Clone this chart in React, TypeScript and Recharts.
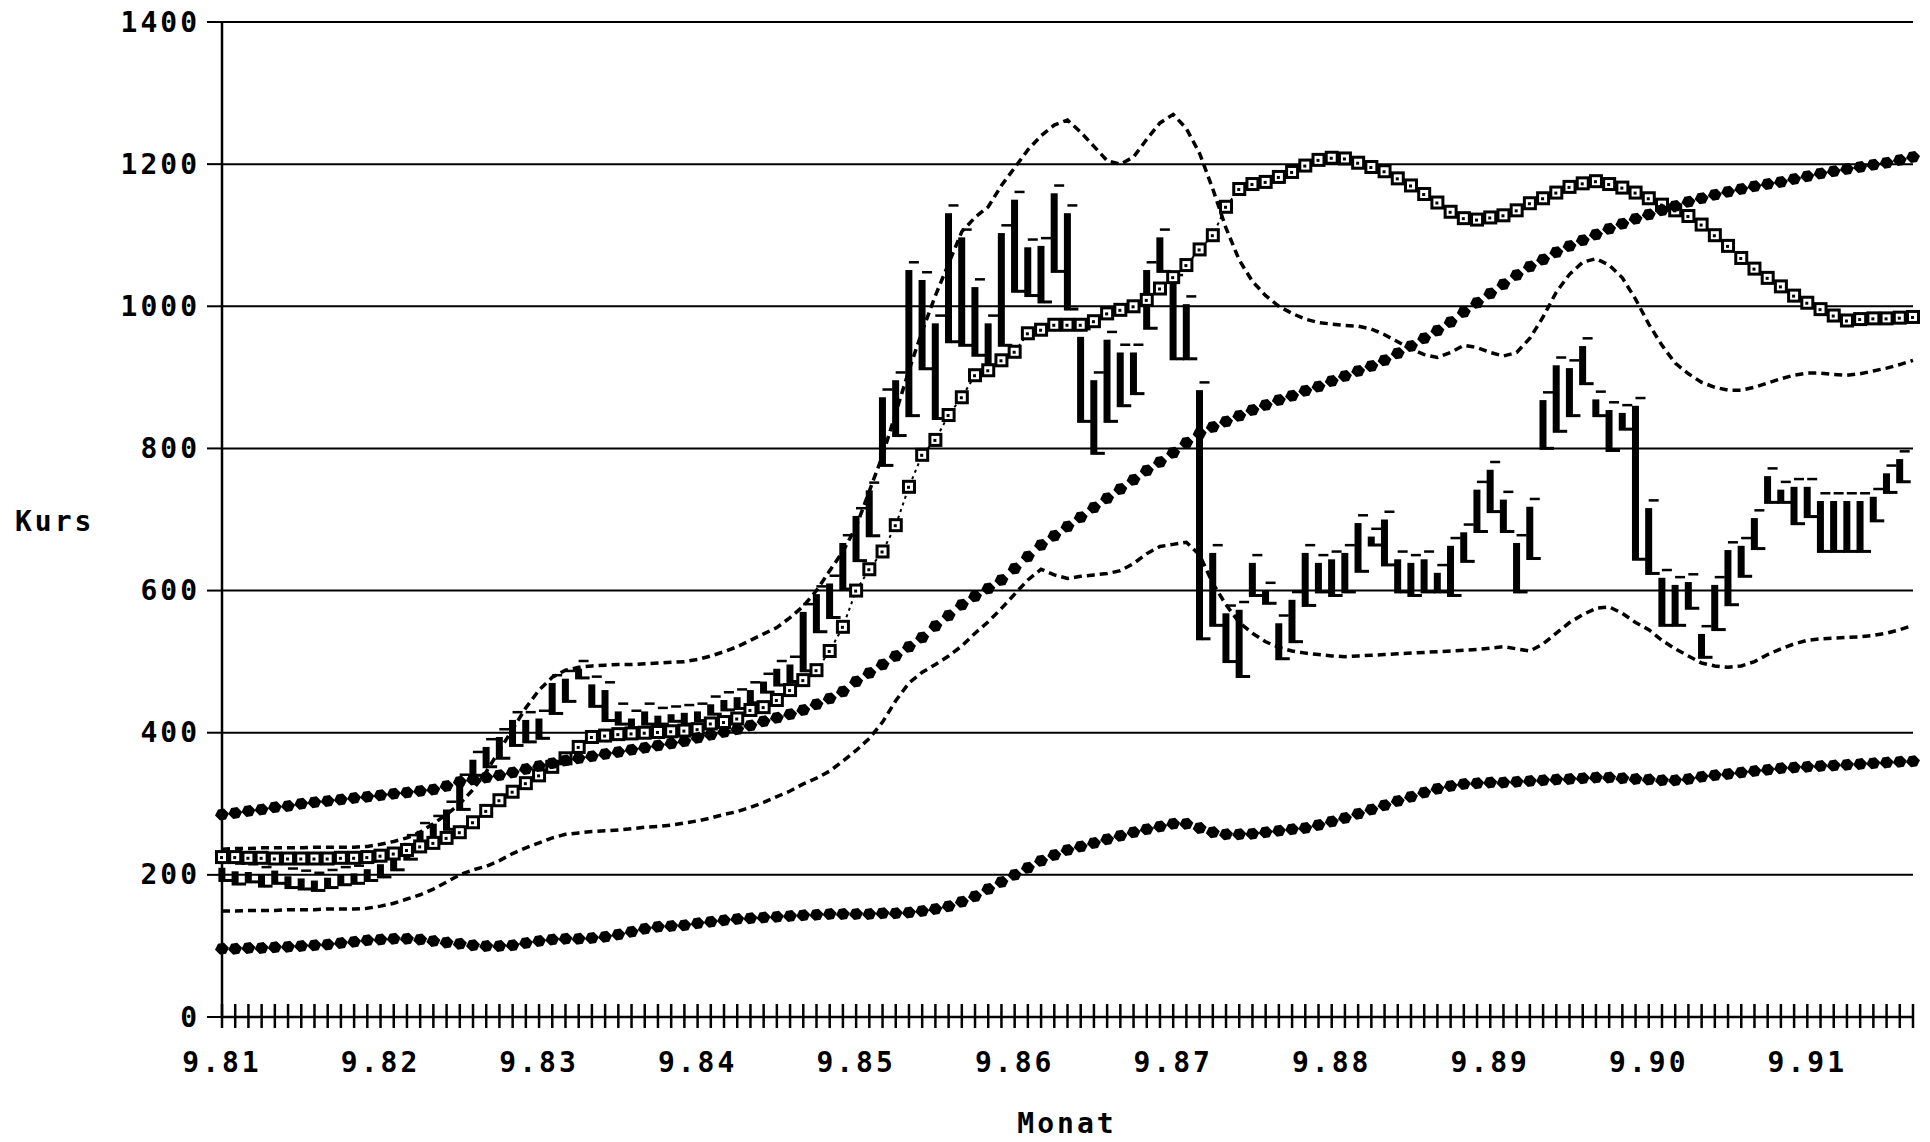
import React from "react";
import { ComposedChart, Bar, Line, XAxis, YAxis, CartesianGrid } from "recharts";

// Monatskurse Sep 1981 .. Mai 1992 (Index 0 = 9.81)
const MONTHS = Array.from({ length: 129 }, (_, i) => i);
const YEAR_LABELS = ["9.81", "9.82", "9.83", "9.84", "9.85", "9.86", "9.87", "9.88", "9.89", "9.90", "9.91"];
const Y_TICKS = [0, 200, 400, 600, 800, 1000, 1200, 1400];

// Hoch/Tief je Monat
const BAR_LOW = [
  190, 185, 188, 182, 186, 180, 178, 176, 180, 184, 186, 190,
  195, 205, 220, 238, 250, 262, 290, 338, 350, 362, 380, 385,
  390, 425, 442, 475, 435, 415, 410, 405, 410, 410, 414, 410,
  415, 424, 430, 432, 440, 455, 465, 470, 485, 540, 560, 600,
  640, 675, 774, 816, 844, 910, 840, 948, 943, 929, 915, 943,
  1019, 1013, 1004, 1047, 994, 836, 791, 836, 858, 875, 967, 1047,
  924, 924, 530, 549, 498, 477, 591, 580, 502, 526, 577, 596,
  591, 596, 625, 662, 634, 596, 591, 596, 596, 591, 639, 681,
  709, 681, 596, 643, 798, 822, 844, 889, 844, 795, 825, 642,
  622, 549, 549, 573, 504, 543, 578, 618, 657, 722, 722, 692,
  702, 653, 653, 653, 653, 696, 736, 751,
];
const BAR_HIGH = [
  210, 205, 204, 200, 206, 198, 195, 192, 196, 200, 202, 208,
  215, 225, 245, 262, 272, 292, 330, 362, 380, 394, 418, 418,
  420, 470, 476, 490, 468, 460, 430, 420, 430, 424, 426, 428,
  430, 440, 446, 450, 460, 472, 490, 496, 570, 595, 610, 667,
  705, 741, 872, 896, 1051, 1037, 976, 1131, 1097, 1027, 976, 1103,
  1150, 1083, 1085, 1159, 1131, 957, 896, 953, 935, 935, 1051, 1097,
  1033, 1003, 882, 653, 568, 573, 639, 600, 554, 587, 653, 639,
  644, 653, 695, 676, 700, 644, 639, 644, 625, 663, 682, 742,
  770, 728, 667, 718, 868, 917, 913, 944, 869, 854, 850, 860,
  716, 618, 608, 612, 539, 608, 657, 663, 702, 761, 742, 746,
  746, 726, 726, 726, 726, 732, 765, 785,
];

// gleitender Durchschnitt (Quadrate)
const MA_SQUARE = [
  225, 225, 224, 224, 223, 223, 223, 223, 223, 224, 224, 225,
  227, 230, 235, 240, 245, 252, 260, 274, 290, 305, 317, 329,
  340, 352, 364, 380, 394, 396, 398, 399, 400, 401, 402, 403,
  405, 413, 415, 420, 432, 436, 446, 460, 474, 488, 515, 549,
  600, 630, 655, 692, 746, 791, 812, 847, 872, 903, 910, 924,
  936, 962, 967, 974, 974, 974, 979, 990, 995, 1000, 1009, 1025,
  1041, 1058, 1080, 1100, 1140, 1165, 1172, 1175, 1182, 1189, 1198, 1206,
  1209, 1208, 1202, 1196, 1190, 1180, 1170, 1158, 1146, 1133, 1124, 1122,
  1125, 1128, 1135, 1145, 1152, 1160, 1168, 1173, 1176, 1172, 1167, 1160,
  1152, 1143, 1135, 1127, 1115, 1100, 1085, 1068, 1053, 1040, 1028, 1015,
  1005, 996, 987, 980, 982, 983, 983, 984, 985,
];

// Bänder (gepunktet)
const BAND_UPPER = [
  236, 237, 237, 238, 238, 238, 238, 239, 239, 239, 239, 240,
  243, 247, 252, 260, 272, 285, 300, 320, 345, 375, 405, 435,
  460, 478, 488, 492, 494, 495, 496, 496, 497, 498, 499, 500,
  503, 508, 514, 521, 530, 539, 548, 562, 578, 600, 628, 655,
  690, 740, 790, 850, 910, 965, 1015, 1060, 1105, 1125, 1140, 1170,
  1195, 1220, 1240, 1255, 1262, 1245, 1225, 1205, 1200, 1210, 1235, 1258,
  1270, 1250, 1215, 1165, 1110, 1065, 1035, 1015, 1000, 990, 982, 977,
  975, 973, 972, 968, 960, 950, 940, 932, 928, 935, 945, 942,
  935, 930, 935, 955, 985, 1020, 1045, 1062, 1067, 1058, 1040, 1010,
  975, 945, 920, 905, 893, 886, 882, 882, 886, 892, 898, 903,
  906, 906, 904, 903, 905, 909, 913, 918, 924,
];
const BAND_LOWER = [
  149, 149, 150, 150, 150, 151, 151, 151, 152, 152, 152, 153,
  156, 160, 166, 172, 180, 190, 200, 207, 212, 220, 230, 238,
  245, 252, 257, 259, 261, 262, 263, 265, 267, 268, 270, 273,
  276, 280, 285, 289, 295, 302, 310, 318, 328, 336, 346, 360,
  375, 392, 415, 445, 470, 485, 496, 508, 522, 540, 556, 575,
  595, 615, 630, 622, 617, 620, 622, 624, 628, 638, 652, 662,
  665, 668, 650, 610, 580, 555, 540, 528, 520, 515, 512, 510,
  508, 507, 508, 509, 510, 511, 512, 513, 514, 515, 516, 517,
  519, 521, 518, 515, 525, 540, 555, 566, 575, 577, 568, 555,
  545, 530, 518, 508, 498, 494, 492, 494, 500, 510, 518, 525,
  530, 532, 533, 534, 535, 537, 540, 545, 551,
];

// langfristiger Trend (Rauten oben) und Basislinie (Rauten unten)
const TREND = [
  285, 287, 290, 292, 295, 297, 300, 302, 304, 306, 308, 310,
  312, 314, 316, 318, 320, 325, 331, 334, 337, 340, 344, 349,
  353, 357, 361, 364, 367, 370, 373, 376, 379, 382, 385, 388,
  393, 397, 401, 405, 410, 416, 421, 426, 432, 440, 448, 458,
  472, 484, 496, 508, 521, 534, 550, 565, 580, 592, 603, 615,
  631, 648, 664, 677, 690, 703, 717, 730, 743, 756, 769, 781,
  794, 808, 821, 830, 838, 846, 854, 861, 868, 874, 881, 887,
  895, 902, 909, 916, 924, 934, 944, 955, 966, 978, 992, 1005,
  1018, 1031, 1044, 1056, 1066, 1076, 1085, 1093, 1101, 1109, 1116, 1123,
  1129, 1135, 1141, 1147, 1152, 1157, 1161, 1165, 1169, 1172, 1175, 1179,
  1183, 1187, 1190, 1193, 1196, 1199, 1202, 1206, 1210,
];
const BASE = [
  96, 96, 97, 97, 98, 99, 100, 101, 102, 104, 106, 108,
  109, 110, 110, 109, 107, 105, 103, 101, 100, 100, 101, 104,
  107, 109, 110, 110, 111, 113, 116, 120, 124, 127, 128, 129,
  132, 134, 136, 138, 139, 140, 141, 142, 143, 144, 145, 145,
  145, 145, 146, 146, 147, 149, 152, 156, 162, 170, 180, 190,
  200, 210, 220, 228, 235, 240, 245, 250, 255, 260, 264, 268,
  272, 272, 266, 260, 257, 257, 258, 260, 262, 264, 266, 270,
  275, 280, 286, 292, 298, 304, 310, 316, 321, 325, 328, 329,
  330, 330, 331, 332, 333, 334, 335, 336, 337, 337, 336, 335,
  334, 333, 333, 335, 338, 340, 342, 344, 346, 348, 350, 351,
  352, 353, 354, 355, 356, 357, 358, 359, 360,
];

const rows = MONTHS.map((m, i) => ({
  m,
  range: BAR_LOW[i] == null ? null : [BAR_LOW[i], BAR_HIGH[i]],
  sq: MA_SQUARE[i],
  up: BAND_UPPER[i],
  dn: BAND_LOWER[i],
  trend: TREND[i],
  base: BASE[i],
}));

const FONT = "'DejaVu Sans Mono', 'Liberation Mono', monospace";
const textStyle = { fontFamily: FONT, fontWeight: 700, fontSize: 28, letterSpacing: 3, fill: "#000" };

function HiLoBar(props: any) {
  const { x, y, width, height } = props;
  if (x == null || y == null || isNaN(y)) return <g />;
  const cx = x + width / 2;
  const h = Math.max(height, 4);
  return (
    <g>
      <rect x={cx - 3.5} y={y} width={7} height={h} fill="#000" />
      <rect x={cx + 3} y={y + h - 3} width={8} height={3} fill="#000" />
      <rect x={cx} y={y - 9} width={10} height={2.5} fill="#000" />
    </g>
  );
}

function squareDot(p: any) {
  if (p.cx == null || p.cy == null) return <g key={p.index} />;
  return (
    <g key={p.index}>
      <rect x={p.cx - 5.5} y={p.cy - 5.5} width={11} height={11} fill="#fff" stroke="#000" strokeWidth={3} />
      <rect x={p.cx - 2} y={p.cy - 1} width={3} height={3} fill="#000" />
    </g>
  );
}

function diamondDot(p: any) {
  if (p.cx == null || p.cy == null) return <g key={p.index} />;
  const { cx, cy } = p;
  return (
    <path
      key={p.index}
      d={`M${cx - 7},${cy + 1} L${cx - 4},${cy - 5} L${cx + 2},${cy - 6} L${cx + 7},${cy - 1} L${cx + 4},${cy + 5} L${cx - 2},${cy + 6} Z`}
      fill="#000"
    />
  );
}

function MonthTick(props: any) {
  const { x, y, payload } = props;
  const m = payload.value as number;
  const label = m % 12 === 0 ? YEAR_LABELS[m / 12] : null;
  return (
    <g>
      <line x1={x} x2={x} y1={y - 13} y2={y + 11} stroke="#000" strokeWidth={2.5} />
      {label && (
        <text x={x} y={y + 45} textAnchor="middle" dominantBaseline="central" style={textStyle}>
          {label}
        </text>
      )}
    </g>
  );
}

function KursTick(props: any) {
  const { x, y, payload } = props;
  return (
    <text x={x + 3} y={y} textAnchor="end" dominantBaseline="central" style={textStyle}>
      {payload.value}
    </text>
  );
}

export default function App() {
  return (
    <div style={{ width: 1914, height: 1134, background: "#fff" }}>
      <style>{`.recharts-surface{overflow:visible}`}</style>
      <ComposedChart
        width={1914}
        height={1134}
        data={rows}
        margin={{ top: 14, right: 9, bottom: 5, left: 0 }}
      >
        <CartesianGrid vertical={false} stroke="#000" strokeWidth={2} />
        <XAxis
          dataKey="m"
          type="number"
          domain={[0, 128]}
          ticks={MONTHS}
          interval={0}
          tick={<MonthTick />}
          tickLine={false}
          tickSize={0}
          tickMargin={0}
          axisLine={{ stroke: "#000", strokeWidth: 2.5 }}
          height={120}
          label={() => (
            <text x={1059} y={1115} textAnchor="middle" dominantBaseline="central" style={textStyle}>
              Monat
            </text>
          )}
        />
        <YAxis
          type="number"
          domain={[0, 1400]}
          ticks={Y_TICKS}
          interval={0}
          width={214}
          tick={<KursTick />}
          tickSize={15}
          tickMargin={10}
          tickLine={{ stroke: "#000", strokeWidth: 2 }}
          axisLine={{ stroke: "#000", strokeWidth: 2.5 }}
          label={() => (
            <text x={7} y={513} textAnchor="start" dominantBaseline="central" style={textStyle}>
              Kurs
            </text>
          )}
        />
        <Line
          dataKey="up"
          type="linear"
          stroke="#000"
          strokeWidth={3.5}
          strokeDasharray="8 5"
          dot={false}
          isAnimationActive={false}
        />
        <Line
          dataKey="dn"
          type="linear"
          stroke="#000"
          strokeWidth={3.5}
          strokeDasharray="8 5"
          dot={false}
          isAnimationActive={false}
        />
        <Bar dataKey="range" barSize={7} shape={<HiLoBar />} isAnimationActive={false} />
        <Line
          dataKey="sq"
          type="linear"
          stroke="#000"
          strokeWidth={2}
          strokeDasharray="3 4"
          dot={squareDot}
          isAnimationActive={false}
        />
        <Line
          dataKey="trend"
          type="linear"
          stroke="none"
          dot={diamondDot}
          isAnimationActive={false}
        />
        <Line
          dataKey="base"
          type="linear"
          stroke="none"
          dot={diamondDot}
          isAnimationActive={false}
        />
      </ComposedChart>
    </div>
  );
}
